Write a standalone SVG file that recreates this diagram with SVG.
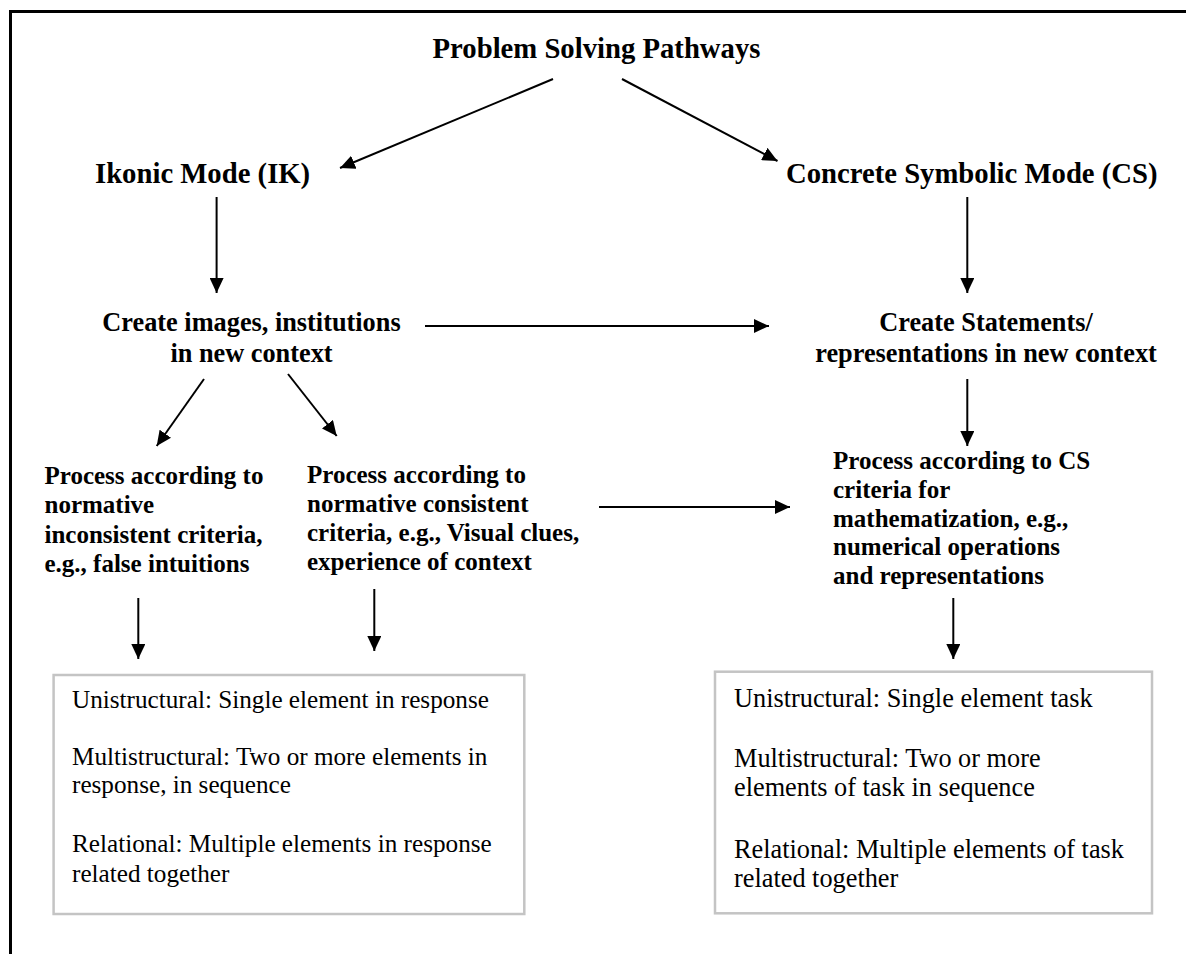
<svg xmlns="http://www.w3.org/2000/svg" width="1186" height="954" viewBox="0 0 1186 954">
<defs>
<marker id="ah" markerUnits="userSpaceOnUse" markerWidth="15" markerHeight="14" viewBox="0 0 15 14" refX="15" refY="7" orient="auto">
<path d="M0,0 L15,7 L0,14 z" fill="#000"/>
</marker>
<style>
.h{font-family:"Liberation Serif","Times New Roman",serif;font-weight:bold;fill:#000}
.t{font-family:"Liberation Serif","Times New Roman",serif;fill:#000}
.c line{stroke:#000;stroke-width:2;marker-end:url(#ah)}
.box{fill:none;stroke:#c4c4c4;stroke-width:2.5}
</style>
</defs>
<rect width="1186" height="954" fill="#fff"/>
<path d="M10.5,960 V11.5 H1200" fill="none" stroke="#000" stroke-width="3"/>

<g id="title"><text class="h" x="596.5" y="58" font-size="28.7" text-anchor="middle">Problem Solving Pathways</text></g>
<g id="ikonic"><text class="h" x="95" y="183" font-size="28.7">Ikonic Mode (IK)</text></g>
<g id="concrete"><text class="h" x="786" y="183" font-size="28.7">Concrete Symbolic Mode (CS)</text></g>

<g id="create-images" class="h" font-size="26.3" text-anchor="middle">
<text x="251.5" y="330.5">Create images, institutions</text>
<text x="251.5" y="361.5">in new context</text>
</g>
<g id="create-statements" class="h" font-size="26.3" text-anchor="middle">
<text x="986" y="330.5">Create Statements/</text>
<text x="986" y="361.5">representations in new context</text>
</g>

<g id="process-inconsistent" class="h" font-size="25">
<text x="44.5" y="484">Process according to</text>
<text x="44.5" y="513.3">normative</text>
<text x="44.5" y="542.6">inconsistent criteria,</text>
<text x="44.5" y="571.9">e.g., false intuitions</text>
</g>
<g id="process-consistent" class="h" font-size="25">
<text x="307" y="482.5">Process according to</text>
<text x="307" y="511.5">normative consistent</text>
<text x="307" y="540.5">criteria, e.g., Visual clues,</text>
<text x="307" y="569.5">experience of context</text>
</g>
<g id="process-cs" class="h" font-size="25">
<text x="833" y="469">Process according to CS</text>
<text x="833" y="497.5">criteria for</text>
<text x="833" y="526.5">mathematization, e.g.,</text>
<text x="833" y="555">numerical operations</text>
<text x="833" y="583.5">and representations</text>
</g>

<g id="box-ik">
<rect class="box" x="53.6" y="675" width="470.7" height="239"/>
<g class="t" font-size="25.2">
<text x="72" y="708.3">Unistructural: Single element in response</text>
<text x="72" y="765">Multistructural: Two or more elements in</text>
<text x="72" y="793.3">response, in sequence</text>
<text x="72" y="852.3">Relational: Multiple elements in response</text>
<text x="72" y="881.5">related together</text>
</g>
</g>
<g id="box-cs">
<rect class="box" x="715" y="671.7" width="437" height="241.6"/>
<g class="t" font-size="26.3">
<text x="734" y="706.7">Unistructural: Single element task</text>
<text x="734" y="766.7">Multistructural: Two or more</text>
<text x="734" y="796">elements of task in sequence</text>
<text x="734" y="858.3">Relational: Multiple elements of task</text>
<text x="734" y="886.7">related together</text>
</g>
</g>

<g id="connectors" class="c">
<line x1="553" y1="79" x2="340" y2="168"/>
<line x1="622" y1="79" x2="777.5" y2="161"/>
<line x1="216.6" y1="197" x2="216.6" y2="293"/>
<line x1="967.3" y1="197" x2="967.3" y2="293"/>
<line x1="425" y1="326" x2="769" y2="326"/>
<line x1="204" y1="379" x2="156.7" y2="446"/>
<line x1="288" y1="374" x2="336.7" y2="436"/>
<line x1="967.3" y1="379" x2="967.3" y2="446"/>
<line x1="599" y1="507" x2="790" y2="507"/>
<line x1="138.3" y1="598" x2="138.3" y2="659"/>
<line x1="374.3" y1="589" x2="374.3" y2="651"/>
<line x1="953.3" y1="598" x2="953.3" y2="659"/>
</g>
</svg>
